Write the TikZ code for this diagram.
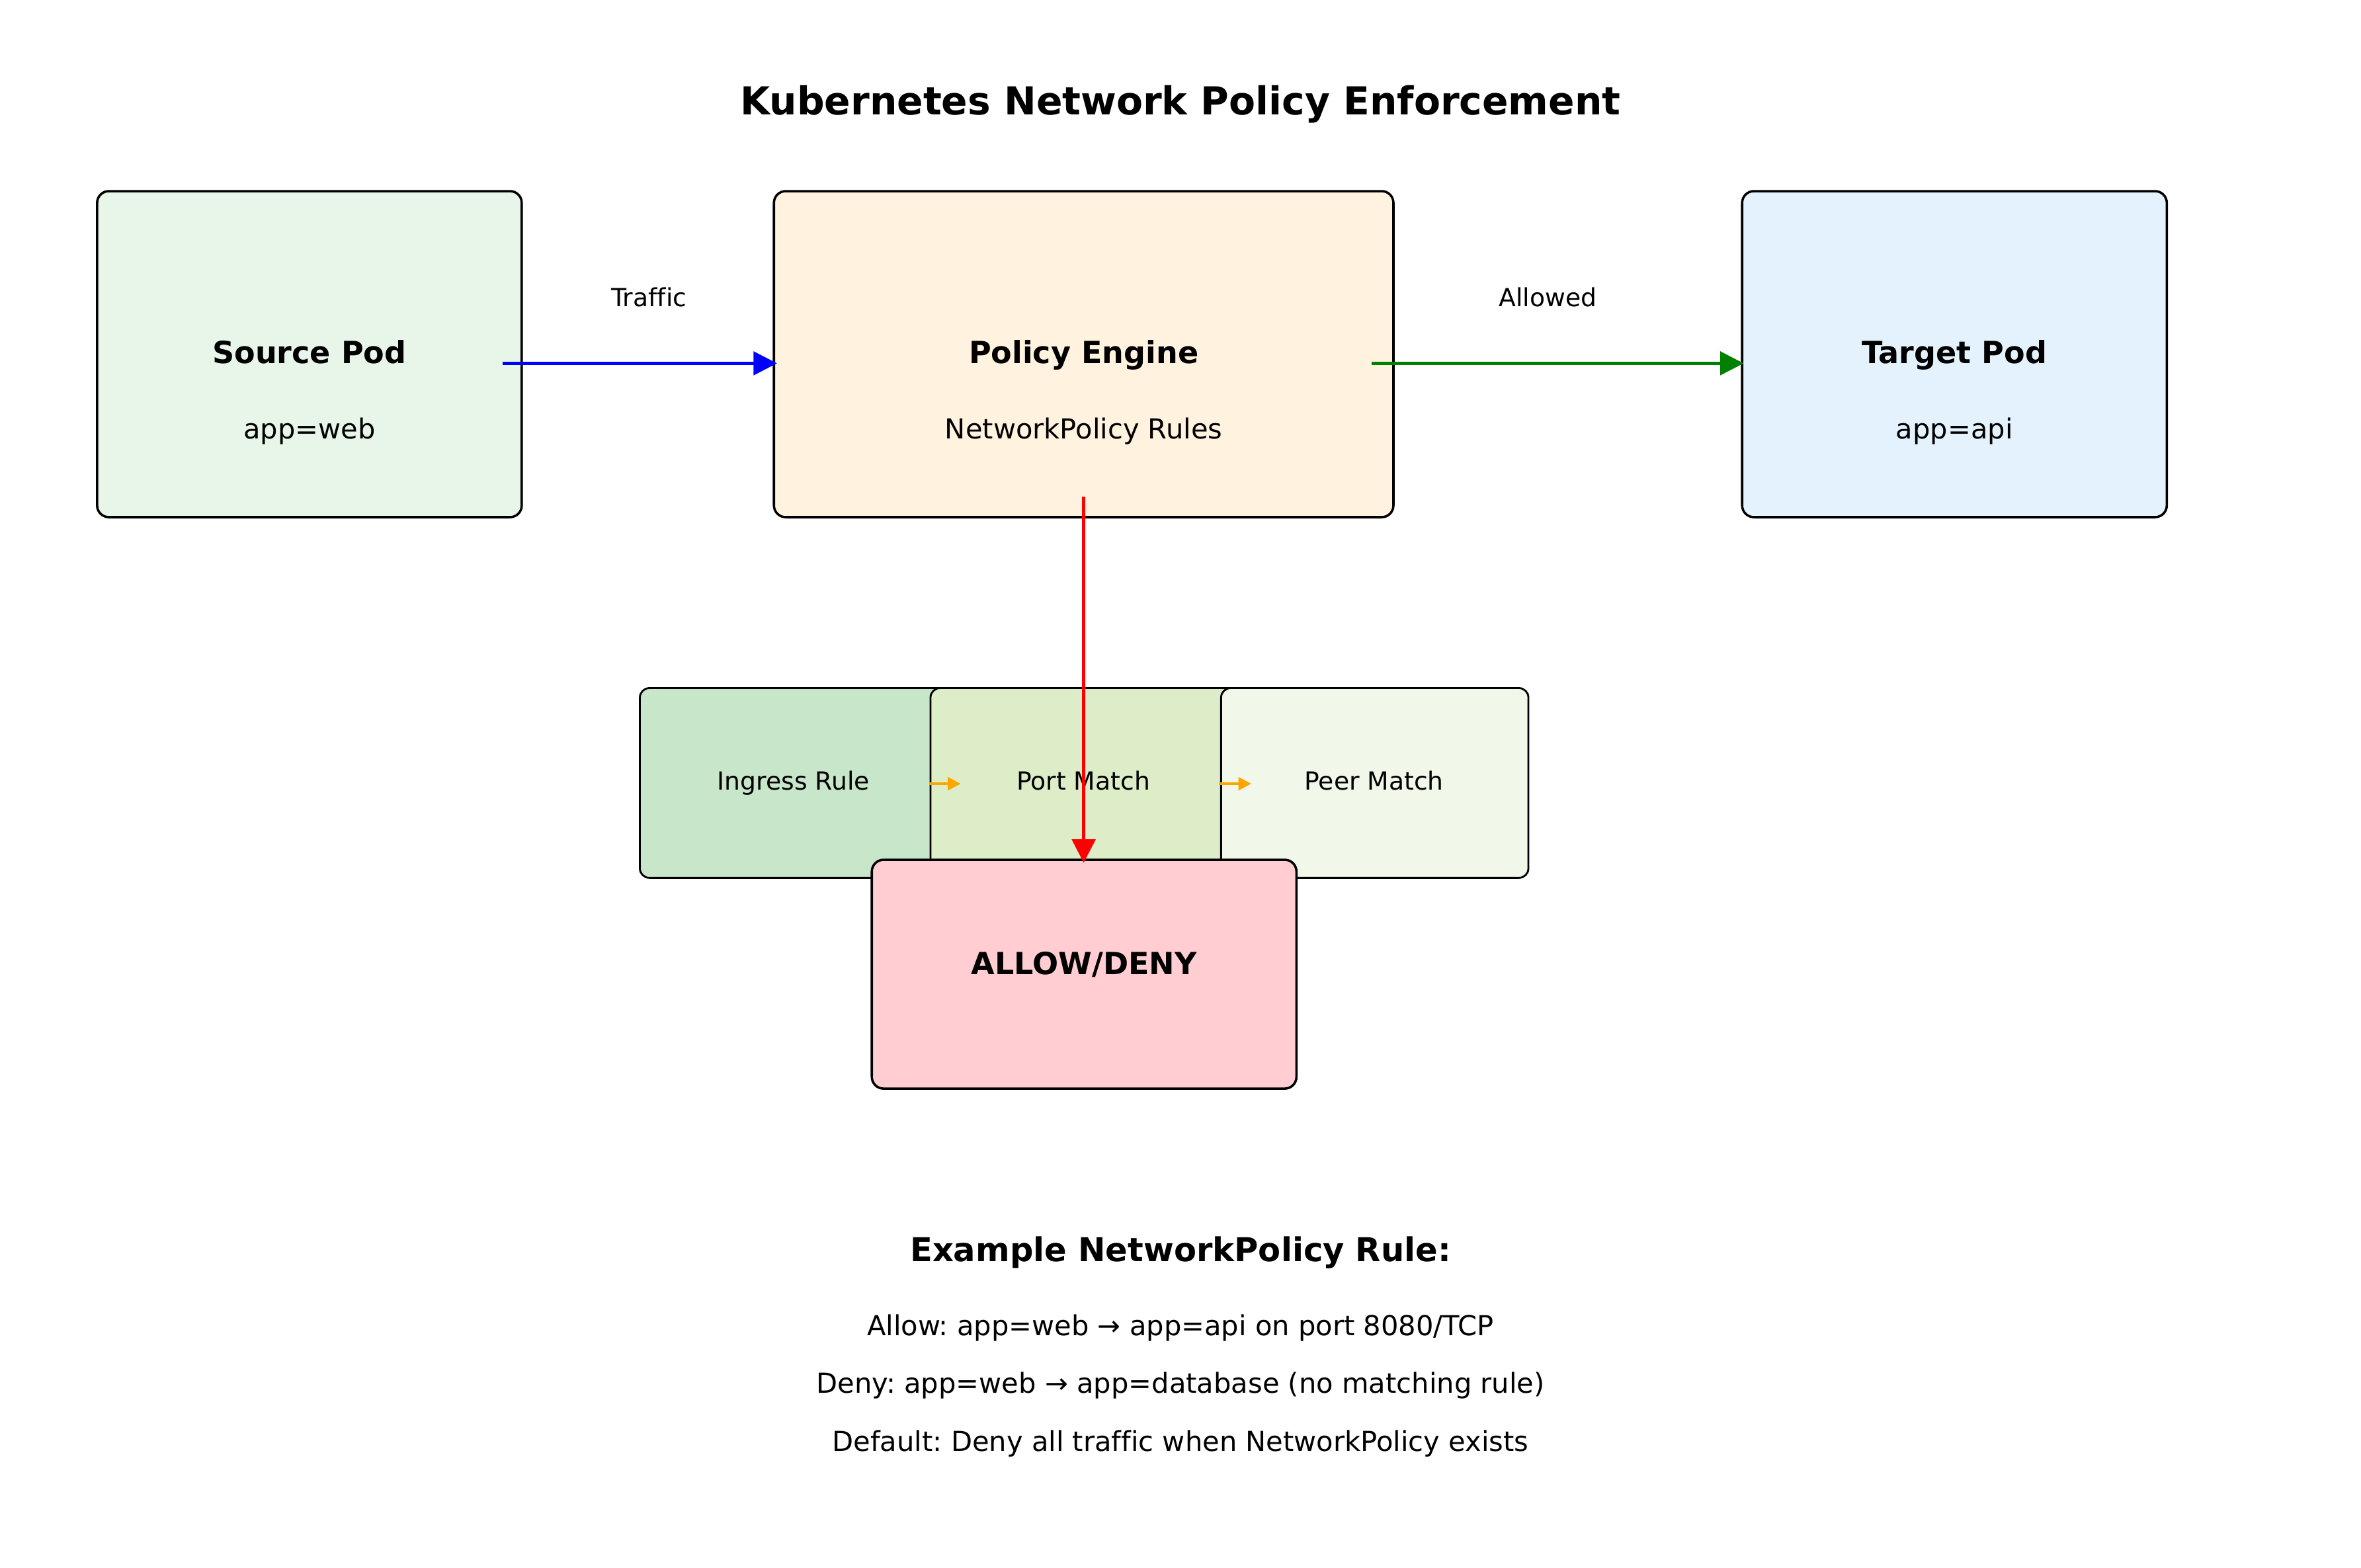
\documentclass[tikz,border=0pt]{standalone}
\usepackage{fontspec}
\setmainfont[Ligatures=NoCommon]{DejaVu Sans}
\frenchspacing
\usetikzlibrary{arrows.meta}
\definecolor{srcfill}{HTML}{E8F5E9}
\definecolor{pefill}{HTML}{FFF3E0}
\definecolor{tgtfill}{HTML}{E3F2FD}
\definecolor{ingfill}{HTML}{C8E6C9}
\definecolor{portfill}{HTML}{DCEDC8}
\definecolor{peerfill}{HTML}{F1F8E9}
\definecolor{allowfill}{HTML}{FFCDD2}
\definecolor{okgreen}{HTML}{008000}
\definecolor{orangearr}{HTML}{FFA500}
\tikzset{
  bigbox/.style={draw=black, line width=1pt, rounded corners=5pt, inner sep=0pt,
    minimum width=181.3pt, minimum height=139.2pt},
  smallbox/.style={draw=black, line width=0.8pt, rounded corners=4pt, inner sep=0pt,
    minimum width=131.2pt, minimum height=81pt},
  txt/.style={anchor=base, inner sep=0pt},
  lbl/.style={txt, font=\fontsize{10.65}{13}\selectfont},
  sub/.style={txt, font=\fontsize{11.76}{14}\selectfont},
  boldlbl/.style={txt, font=\fontsize{13}{15}\selectfont\bfseries},
  bigarrow/.style={line width=1.2pt, -{Triangle[length=10pt,width=10pt]}},
  smallarrow/.style={line width=1pt, orangearr, -{Triangle[length=5.5pt,width=5.5pt]}}
}
\begin{document}
\begin{tikzpicture}[x=0.6429pt, y=-0.6429pt]
\useasboundingbox[fill=white] (0,0) rectangle (1568,1041);

% title
\node[txt, font=\fontsize{16.45}{19}\selectfont\bfseries] (title) at (784,76) {Kubernetes Network Policy Enforcement};

% top boxes
\node[bigbox, fill=srcfill] (src) at (205.5,235.2) {};
\node[bigbox, fill=pefill, minimum width=264.5pt] (pe) at (719.7,235.2) {};
\node[bigbox, fill=tgtfill] (tgt) at (1298,235.2) {};

\node[boldlbl] (srct) at (205.5,241.5) {Source Pod};
\node[sub] (srcl) at (205.5,291.5) {app=web};
\node[boldlbl] (pet) at (719.7,241.5) {Policy Engine};
\node[sub] (pel) at (719.7,291.5) {NetworkPolicy Rules};
\node[boldlbl] (tgtt) at (1298,241.5) {Target Pod};
\node[sub] (tgtl) at (1298,291.5) {app=api};

% rule boxes
\node[smallbox, fill=ingfill] (ing) at (527,520) {};
\node[smallbox, fill=portfill] (port) at (720,520) {};
\node[smallbox, fill=peerfill] (peer) at (913,520) {};
\node[lbl] (ingt) at (527,524.5) {Ingress Rule};
\node[lbl] (portt) at (719.5,524.5) {Port Match};
\node[lbl] (peert) at (912.5,524.5) {Peer Match};

% decision box
\node[bigbox, fill=allowfill, minimum height=97.7pt] (allow) at (720,647) {};
\node[boldlbl] (allowt) at (720,647) {ALLOW/DENY};

% connector ends
\coordinate (bstart) at (333.8,241.3);
\coordinate (bend) at (516,241.3);
\coordinate (gstart) at (911,241.3);
\coordinate (gend) at (1158,241.3);
\coordinate (rstart) at (719.7,330);
\coordinate (rend) at (719.7,573);
\coordinate (o1s) at (617,520.5);
\coordinate (o1e) at (638,520.5);
\coordinate (o2s) at (809.5,520.5);
\coordinate (o2e) at (831,520.5);

\draw[bigarrow, blue] (bstart) -- (bend);
\draw[bigarrow, okgreen] (gstart) -- (gend);
\draw[bigarrow, red] (rstart) -- (rend);
\draw[smallarrow] (o1s) -- (o1e);
\draw[smallarrow] (o2s) -- (o2e);

\node[lbl] (traffic) at (431,203.4) {Traffic};
\node[lbl] (allowed) at (1028,203.6) {Allowed};

% example text
\node[txt, font=\fontsize{14}{17}\selectfont\bfseries] (exh) at (784,838) {Example NetworkPolicy Rule:};
\node[sub] (ex1) at (784,887) {Allow: app=web → app=api on port 8080/TCP};
\node[sub] (ex2) at (784,925) {Deny: app=web → app=database (no matching rule)};
\node[sub] (ex3) at (784,964) {Default: Deny all traffic when NetworkPolicy exists};
\end{tikzpicture}
\end{document}
